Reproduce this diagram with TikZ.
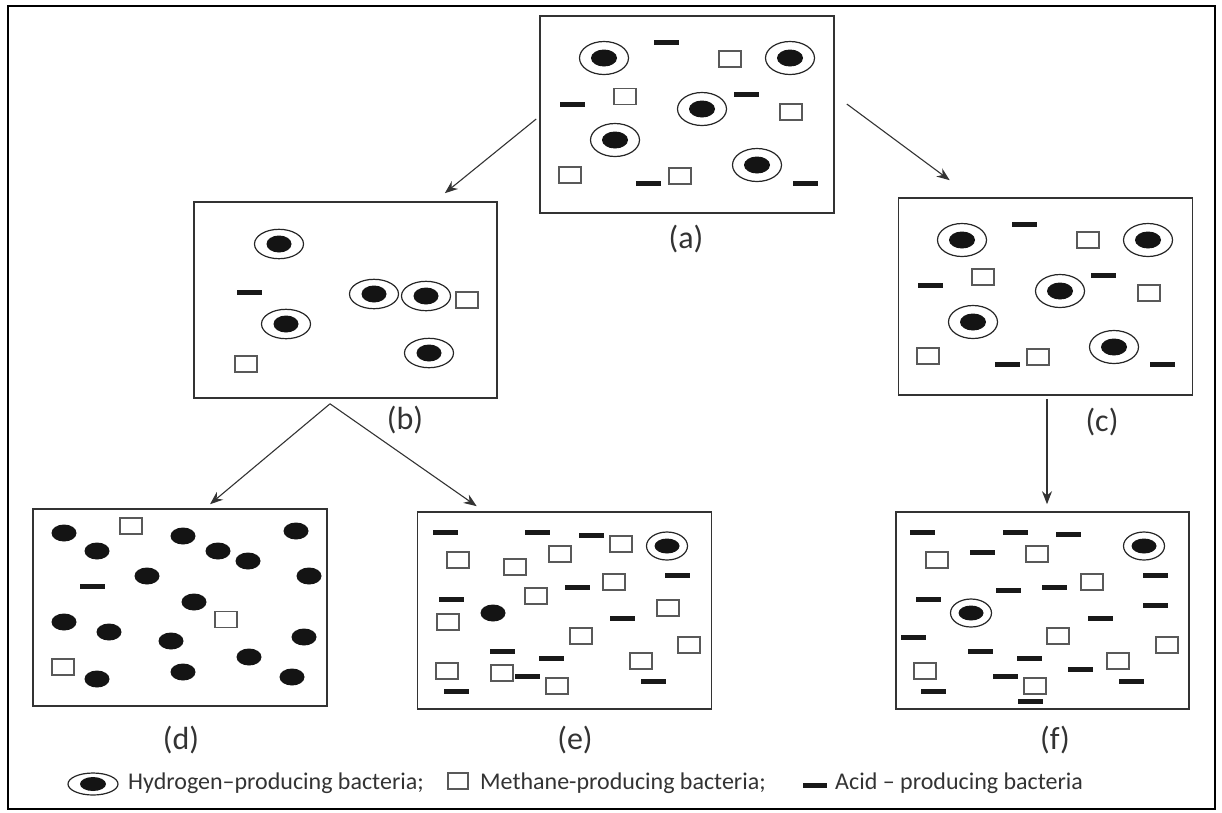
\documentclass[tikz,border=0pt]{standalone}
\usepackage{fontspec}
\setmainfont{Carlito}
\usetikzlibrary{arrows.meta}
\begin{document}
\begin{tikzpicture}[
             x                = 1pt,
             y                = -1pt,
             panel/.style     = {draw=black!80, line width=1.6pt, minimum width=294,
                                 minimum height=197, inner sep=0},
             arr/.style       = {black!80, line width=1.1pt, -{Stealth[length=13pt, width=10pt]}},
             ring/.style      = {black!85, line width=1.2pt},
             cell/.style      = {black!92},
             meth/.style      = {black!65, line width=1.2pt},
             acid/.style      = {black!90},
             lab/.style       = {text=black!80, inner sep=0, font=\fontsize{32}{36}\selectfont},
             key/.style       = {text=black!80, inner sep=0, anchor=base west,
                                 font=\fontsize{24}{28}\selectfont}]
             \useasboundingbox (0,0) rectangle (1222,812);
             \draw [line width=2pt] (8,6) rectangle (1215,809);
             \node [panel] (a) at (687,114.5) {};
             \node [panel, minimum width=303, minimum height=196] (b) at (345.5,300) {};
             \node [panel] (c) at (1045.5,296.5) {};
             \node [panel] (d) at (180,607.5) {};
             \node [panel] (e) at (564.5,610.5) {};
             \node [panel, minimum width=293] (f) at (1042.5,610.5) {};
             \node [lab] (la) at (686,239) {(a)};
             \node [lab] (lb) at (405,420) {(b)};
             \node [lab] (lc) at (1102,422) {(c)};
             \node [lab] (ld) at (181,740) {(d)};
             \node [lab] (le) at (575,740) {(e)};
             \node [lab] (lf) at (1055,740) {(f)};
             \draw [arr] ([shift={(-3,4.5)}]a.west) -- ([shift={(-53,-8)}]b.north east);
             \draw [arr] ([shift={(12,-10.5)}]a.east) -- ([shift={(52,-17)}]c.north west);
             \draw [arr] ([shift={(-15.5,5)}]b.south) -- ([shift={(30,-4)}]d.north);
             \draw [arr] ([shift={(-15.5,5)}]b.south) -- ([shift={(60,-5)}]e.north west);
             \draw [arr] ([shift={(1.5,3)}]c.south) -- ([shift={(4.5,-7)}]f.north);
             \foreach \x/\y in {604/58, 790/58, 702/109, 615/140, 757/165,
                    962/240, 1148/240, 1060/291, 973/322, 1114/347}
                    {\draw [ring] (\x,\y) ellipse [x radius=24.5, y radius=16.5];
                     \fill [cell] (\x,\y) ellipse [x radius=13, y radius=8.5];}
             \foreach \x/\y in {279/244, 286/324, 374/294, 426/296, 429/353}
                    {\draw [ring] (\x,\y) ellipse [x radius=24.5, y radius=14.7];
                     \fill [cell] (\x,\y) ellipse [x radius=12.5, y radius=8.5];}
             \foreach \x/\y in {667/546, 1144/546, 971/613}
                    {\draw [ring] (\x,\y) ellipse [x radius=20.5, y radius=14];
                     \fill [cell] (\x,\y) ellipse [x radius=12.5, y radius=7.5];}
             \foreach \x/\y in {64/533, 97/551, 183/536, 218/551, 248/561, 296/531,
                    147/576, 309/576, 194/602, 64/622, 109/632, 171/641, 304/637,
                    249/657, 97/679, 183/672, 292/677, 493/613}
                    \fill [cell] (\x,\y) ellipse [x radius=12.5, y radius=8.5];
             \foreach \x/\y in {730/59, 625/96.5, 791/112, 570/175, 680/176,
                    1088/240, 983/277, 1149/293, 928/356, 1038/357,
                    246/364, 467/300, 131/526, 226/619.5, 63/667,
                    621/544, 458/560, 560/554, 515/567, 614/582, 536/596, 668/608,
                    448/622, 581/636, 689/645, 641/661, 447/671, 502/673, 557/686,
                    937/560, 1037/554, 1092/582, 1058/636, 1167/645, 1118/661,
                    925/671, 1035/686}
                    \draw [meth] (\x-11,\y-8) rectangle ++(22,16);
             \foreach \x/\y in {666/42.5, 572/104.5, 746/94, 648/183, 805/183,
                    1024/224, 930/285, 1103/275, 1007/364, 1162/364, 249.5/292.5, 92/586,
                    445/532, 537/532, 591/535, 677/575, 577/587, 451/599, 622/618,
                    502/651, 551/658, 527/676, 653/681, 456/691,
                    922/532, 1015/532, 1068/534, 982/552, 1155/575, 1008/590, 1054/587,
                    928/599, 1155/605, 1100/618, 913/637, 980/651, 1029/658, 1080/669,
                    1005/676, 1131/681, 933/691, 1030/701}
                    \fill [acid] (\x-12.5,\y-2.5) rectangle ++(25,5);
             \draw [ring] (93,784) ellipse [x radius=25, y radius=11];
             \fill [cell] (93,784) ellipse [x radius=13, y radius=7];
             \node [key] (kh) at (128,789) {Hydrogen–producing bacteria;};
             \draw [meth] (448,773) rectangle ++(20,16);
             \node [key] (km) at (480,789) {Methane-producing bacteria;};
             \fill [acid] (803,783) rectangle ++(24,5);
             \node [key] (ka) at (835,789) {Acid – producing bacteria};
    \end{tikzpicture}
\end{document}
